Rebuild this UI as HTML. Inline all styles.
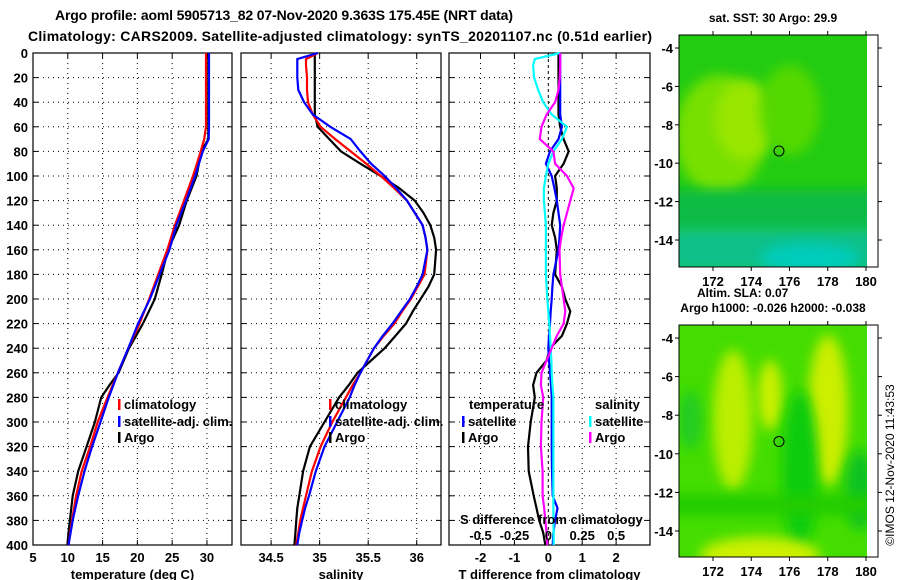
<!DOCTYPE html>
<html><head><meta charset="utf-8"><style>
body{margin:0;background:#fff;}
svg{display:block;font-family:"Liberation Sans",Arial,sans-serif;font-weight:bold;}
</style></head><body>
<svg id="c" width="900" height="580" viewBox="0 0 900 580" xmlns="http://www.w3.org/2000/svg"></svg>
<script>
const depths=[0,5,10,20,30,40,50,60,70,80,90,100,110,120,130,140,150,160,180,190,200,210,220,230,240,250,260,270,280,300,320,340,360,370,380,390,400];
// temperature (deg C)
const tClim=[29.86,29.86,29.86,29.86,29.86,29.86,29.86,29.86,29.6,29.1,28.55,28.0,27.35,26.7,26.05,25.4,24.85,24.3,23.0,22.35,21.7,21.0,20.3,19.5,18.7,17.95,17.2,16.45,15.7,14.3,13.2,12.0,11.2,10.9,10.6,10.35,10.1];
const tSat=[30.3,30.3,30.3,30.3,30.3,30.3,30.3,30.3,30.25,29.4,28.85,28.3,27.65,27.0,26.3,25.6,25.1,24.6,23.2,22.5,21.8,20.95,20.1,19.4,18.7,17.95,17.2,16.55,15.9,14.7,13.5,12.4,11.5,11.1,10.7,10.4,10.1];
const tArgo=[30.2,30.2,30.2,30.2,30.2,30.2,30.2,30.2,30.2,29.2,28.85,28.5,27.8,27.1,26.55,26.0,25.2,24.4,23.5,23.0,22.5,21.65,20.8,19.8,18.8,18.05,17.3,16.0,14.8,13.9,12.7,11.5,10.7,10.5,10.3,10.1,9.95];
// salinity
const sClim=[34.98,34.86,34.86,34.87,34.87,34.88,34.93,35.01,35.16,35.32,35.48,35.63,35.77,35.9,35.98,36.06,36.09,36.11,36.08,36.01,35.94,35.85,35.77,35.66,35.56,35.49,35.42,35.34,35.27,35.13,35.01,34.92,34.86,34.83,34.8,34.78,34.76];
const sSat=[34.98,34.77,34.77,34.77,34.78,34.84,34.93,35.11,35.32,35.42,35.53,35.67,35.79,35.9,35.98,36.06,36.09,36.11,36.06,36.0,35.93,35.84,35.75,35.65,35.56,35.49,35.42,35.36,35.31,35.18,35.05,34.96,34.89,34.85,34.82,34.79,34.77];
const sArgo=[34.95,34.95,34.95,34.95,34.95,34.95,34.95,34.98,35.1,35.22,35.42,35.63,35.82,35.98,36.07,36.14,36.18,36.2,36.18,36.12,36.04,35.96,35.89,35.78,35.67,35.53,35.39,35.3,35.2,35.05,34.9,34.83,34.79,34.77,34.76,34.75,34.74];
// differences (deg C units; salinity scaled x4 on the shared axis)
const dTArgo=[0.3,0.3,0.3,0.3,0.3,0.3,0.3,0.35,0.45,0.6,0.45,0.2,0.25,0.25,0.15,0.1,0.2,0.25,0.2,0.4,0.5,0.65,0.55,0.4,0.05,-0.05,-0.35,-0.45,-0.4,-0.52,-0.6,-0.58,-0.43,-0.35,-0.27,-0.15,-0.09];
const dTSat=[0.35,0.35,0.35,0.35,0.35,0.35,0.35,0.4,0.3,0.05,-0.07,0.1,0.18,0.25,0.3,0.35,0.33,0.3,0.15,0.12,0.1,0.07,0.05,0.02,0.0,0.02,0.05,0.08,0.1,0.1,0.1,0.11,0.13,0.27,0.2,0.15,0.13];
const dSSat=[0.35,-0.4,-0.45,-0.42,-0.3,-0.15,0.1,0.55,0.4,0.15,0.0,-0.07,-0.13,-0.13,-0.1,-0.07,-0.07,-0.07,-0.07,-0.05,-0.03,0.0,0.03,0.05,0.07,0.09,0.1,0.12,0.15,0.15,0.15,0.15,0.15,0.15,0.15,0.16,0.16];
const dSArgo=[0.35,0.35,0.35,0.34,0.3,0.2,-0.05,-0.2,-0.25,0.15,0.2,0.55,0.75,0.65,0.55,0.45,0.38,0.33,0.35,0.4,0.45,0.5,0.45,0.25,0.1,-0.05,-0.2,-0.22,-0.15,-0.2,-0.22,-0.17,-0.17,-0.12,-0.09,-0.05,-0.03];
const depthTicks=[0,20,40,60,80,100,120,140,160,180,200,220,240,260,280,300,320,340,360,380,400];
const tTicks=[5,10,15,20,25,30];
const sTicks=[34.5,35,35.5,36];
const dTicks=[-2,-1,0,1,2];
const dSTickLabels=["-0.5","-0.25","0","0.25","0.5"];
const dSTickVals=[-0.5,-0.25,0,0.25,0.5];
const lonTicks=[172,174,176,178,180];
const latTicks=[-4,-6,-8,-10,-12,-14];
const floatPos=[175.45,-9.363];

const NS="http://www.w3.org/2000/svg";
const svg=document.getElementById('c');
function mk(tag,at,parent){const e=document.createElementNS(NS,tag);for(const k in at)e.setAttribute(k,at[k]);(parent||svg).appendChild(e);return e;}
function txt(x,y,s,size,anchor,parent){const t=mk('text',{x:x,y:y,'font-size':size||12,'text-anchor':anchor||'start',fill:'#000'},parent);t.textContent=s;return t;}

const Y0=53,Y1=545;
const yD=d=>Y0+(d/400)*(Y1-Y0);
const panels=[
 {name:'temperature',x0:33,x1:232,lo:5,hi:33.6,grid:[10,15,20,25,30],ticks:tTicks,label:'temperature (deg C)'},
 {name:'salinity',x0:241,x1:441,lo:34.19,hi:36.25,grid:[34.5,35,35.5,36],ticks:sTicks,label:'salinity'},
 {name:'difference',x0:449,x1:650,lo:-2.93,hi:3.0,grid:[-2,-1,1,2],ticks:dTicks,label:'T difference from climatology'}
];
panels.forEach(p=>{p.sx=v=>p.x0+(v-p.lo)/(p.hi-p.lo)*(p.x1-p.x0);});

let t=txt(55,20,'Argo profile: aoml 5905713_82 07-Nov-2020 9.363S 175.45E (NRT data)',14);
t.setAttribute('textLength','458');


t=txt(28,41,'Climatology: CARS2009. Satellite-adjusted climatology: synTS_20201107.nc (0.51d earlier)',14);
t.setAttribute('textLength','624');



panels.forEach((p,i)=>{
  const g=mk('g',{});
  
  
  depthTicks.forEach(d=>{
    if(d>0&&d<400){const l=mk('line',{x1:p.x0,x2:p.x1,y1:yD(d),y2:yD(d),stroke:'#000','stroke-width':1,'stroke-dasharray':'1,4'},g);
    
    }
    mk('line',{x1:p.x0,x2:p.x0+5,y1:yD(d),y2:yD(d),stroke:'#000'},g);
    mk('line',{x1:p.x1-5,x2:p.x1,y1:yD(d),y2:yD(d),stroke:'#000'},g);
    if(i==0){const tl=txt(28,yD(d)+5,String(d),13,'end',g);
      
      }
  });
  p.grid.forEach(v=>{const l=mk('line',{x1:p.sx(v),x2:p.sx(v),y1:Y0,y2:Y1,stroke:'#000','stroke-dasharray':'1,4'},g);
    
    });
  if(i==2){const l=mk('line',{x1:p.sx(0),x2:p.sx(0),y1:Y0,y2:Y1,stroke:'#000','stroke-dasharray':'3,3'},g);
    
    }
  p.ticks.forEach(v=>{
    mk('line',{x1:p.sx(v),x2:p.sx(v),y1:Y0,y2:Y0+5,stroke:'#000'},g);
    mk('line',{x1:p.sx(v),x2:p.sx(v),y1:Y1-5,y2:Y1,stroke:'#000'},g);
    const tl=txt(p.sx(v),562,String(v),13,'middle',g);
    
    
  });
  const r=mk('rect',{x:p.x0,y:Y0,width:p.x1-p.x0,height:Y1-Y0,fill:'none',stroke:'#000','stroke-width':1.2},g);
  
  
  const at=txt((p.x0+p.x1)/2,579,p.label,13,'middle',g);
  
  
});

function line(p,vals,color,name,scale){
  const pts=vals.map((v,k)=>p.sx(v*(scale||1)).toFixed(1)+','+yD(depths[k]).toFixed(1)).join(' ');
  const l=mk('polyline',{points:pts,fill:'none',stroke:color,'stroke-width':2.2});
  
  
}
const P=panels;
line(P[0],tArgo,'#000','temp-argo-line');
line(P[0],tClim,'#f00','temp-climatology-line');
line(P[0],tSat,'#00f','temp-satellite-line');
line(P[1],sArgo,'#000','salinity-argo-line');
line(P[1],sClim,'#f00','salinity-climatology-line');
line(P[1],sSat,'#00f','salinity-satellite-line');
line(P[2],dTArgo,'#000','tdiff-argo-line');
line(P[2],dTSat,'#00f','tdiff-satellite-line');
line(P[2],dSSat,'#0ff','sdiff-satellite-line');
line(P[2],dSArgo,'#f0f','sdiff-argo-line');

function legend(x,y,color,label){
  const g=mk('g',{});
  
  
  mk('rect',{x:x,y:y-10,width:2.5,height:11,fill:color},g);
  txt(x+6,y,label,13,'start',g);
}
legend(118,409,'#f00','climatology');legend(118,426,'#00f','satellite-adj. clim.');legend(118,442,'#000','Argo');
legend(329,409,'#f00','climatology');legend(329,426,'#00f','satellite-adj. clim.');legend(329,442,'#000','Argo');
t=txt(469,409,'temperature',13);
t=txt(595,409,'salinity',13);
legend(462,426,'#00f','satellite');legend(462,442,'#000','Argo');
legend(589,426,'#0ff','satellite');legend(589,442,'#f0f','Argo');
t=txt(460,524,'S difference from climatology',13);
dSTickVals.forEach((v,k)=>{const tl=txt(P[2].sx(v*4),540,dSTickLabels[k],13,'middle');
  
  });

function map(y0,y1,latTop,name,bg,shapes){
  const x0=679,x1=878,dx1=867;
  const lonX=l=>713+(l-172)*(866-713)/8;
  const latY=l=>latTop+(-4-l)*(latTop===48?192:193)/10;
  const g=mk('g',{});
  
  
  const cid='clip'+y0;
  const cp=mk('clipPath',{id:cid},g);mk('rect',{x:x0,y:y0,width:dx1-x0,height:y1-y0},cp);
  const gg=mk('g',{'clip-path':'url(#'+cid+')'},g);
  mk('rect',{x:x0,y:y0,width:dx1-x0,height:y1-y0,fill:bg},gg);
  shapes.forEach(s=>mk(s[0],Object.assign({},s[1],{filter:'url(#bl)'}),gg));
  mk('rect',{x:x0,y:y0,width:x1-x0,height:y1-y0,fill:'none',stroke:'#000'},g);
  lonTicks.forEach(l=>{mk('line',{x1:lonX(l),x2:lonX(l),y1:y0,y2:y0-4,stroke:'#000'},g);mk('line',{x1:lonX(l),x2:lonX(l),y1:y1,y2:y1+4,stroke:'#000'},g);
    const tl=txt(lonX(l),y1+19,String(l),13,'middle',g);});
  latTicks.forEach(l=>{mk('line',{x1:x0,x2:x0-4,y1:latY(l),y2:latY(l),stroke:'#000'},g);mk('line',{x1:x1,x2:x1+4,y1:latY(l),y2:latY(l),stroke:'#000'},g);
    const tl=txt(673,latY(l)+5,String(l),13,'end',g);});
  const c=mk('circle',{cx:lonX(floatPos[0]),cy:latY(floatPos[1]),r:5,fill:'none',stroke:'#000','stroke-width':1},g);
  
  
}
const defs=mk('defs',{});const f=mk('filter',{id:'bl',x:'-50%',y:'-50%',width:'200%',height:'200%'},defs);mk('feGaussianBlur',{stdDeviation:6},f);
map(35,267,48,'sst-map','#22cc11',[
 ['ellipse',{cx:720,cy:135,rx:45,ry:60,fill:'#77e000'}],
 ['ellipse',{cx:745,cy:120,rx:30,ry:40,fill:'#99e600'}],
 ['ellipse',{cx:790,cy:110,rx:30,ry:45,fill:'#55d800'}],
 ['rect',{x:670,y:190,width:210,height:40,fill:'#11bb44'}],
 ['rect',{x:670,y:228,width:210,height:45,fill:'#11c088'}],
 ['ellipse',{cx:810,cy:258,rx:50,ry:15,fill:'#00ccbb'}]
]);
map(325,557,338,'sla-map','#44dd00',[
 ['ellipse',{cx:733,cy:420,rx:20,ry:70,fill:'#bbee00'}],
 ['ellipse',{cx:770,cy:395,rx:12,ry:35,fill:'#ccf000'}],
 ['ellipse',{cx:828,cy:410,rx:20,ry:75,fill:'#ccee00'}],
 ['ellipse',{cx:800,cy:470,rx:18,ry:80,fill:'#11cc11'}],
 ['ellipse',{cx:690,cy:420,rx:12,ry:30,fill:'#22cc22'}],
 ['ellipse',{cx:860,cy:490,rx:15,ry:40,fill:'#11c222'}],
 ['rect',{x:670,y:495,width:210,height:20,fill:'#22cc00'}],
 ['ellipse',{cx:760,cy:555,rx:60,ry:18,fill:'#ccf000'}]
]);
t=txt(773,22,'sat. SST: 30 Argo: 29.9',12,'middle');
t=txt(697,297,'Altim. SLA: 0.07',12);
t=txt(773,312,'Argo h1000: -0.026 h2000: -0.038',12,'middle');
t=mk('text',{x:0,y:0,'font-size':12,'font-weight':'normal','text-anchor':'middle',transform:'translate(894,465) rotate(-90)'});
t.textContent='©IMOS 12-Nov-2020 11:43:53';


</script>
</body></html>
